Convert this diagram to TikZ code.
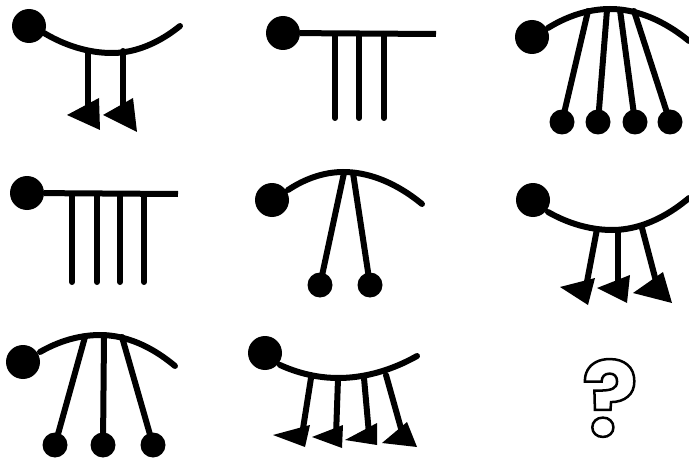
\documentclass[tikz,border=0pt]{standalone}
\usepackage{fontspec}
\newfontfamily\qfont{Poppins}
\begin{document}
\begin{tikzpicture}[x=1pt,y=-1pt,
  line/.style={line width=6pt, line cap=round},
  bigdot/.style={circle, fill=black, inner sep=0pt, minimum size=34pt},
  ball/.style={circle, fill=black, inner sep=0pt, minimum size=25pt}]
\useasboundingbox[fill=white] (0,0) rectangle (689,460);

% ---------- Figure 1 ----------
\node[bigdot] (d1) at (29,26) {};
\coordinate (a1s) at (44,33);
\draw[line] (a1s) parabola bend (112,53) (180,26);
\coordinate (s11) at (88,51); \coordinate (e11) at (88,112);
\coordinate (s12) at (123,51); \coordinate (e12) at (123,112);
\draw[line] (s11) -- (e11);
\draw[line] (s12) -- (e12);
\fill (67,115) -- (99,98) -- (100,130) -- cycle;
\fill (103,115) -- (133,98) -- (137,132) -- cycle;

% ---------- Figure 2 ----------
\node[bigdot] (d2) at (283,33) {};
\coordinate (r2) at (436,34);
\draw[line, line cap=butt] (d2) -- (r2);
\foreach \x [count=\i] in {335,359,384}{
  \coordinate (s2\i) at (\x,34); \coordinate (e2\i) at (\x,118);
  \draw[line] (s2\i) -- (e2\i);
}

% ---------- Figure 3 ----------
\node[bigdot] (d3) at (532,37) {};
\draw[line] (548,28) parabola bend (610,9) (689,41);
\coordinate (s31) at (588,11); \node[ball] (b31) at (562,122) {};
\coordinate (s32) at (607,10); \node[ball] (b32) at (598,122) {};
\coordinate (s33) at (620,10); \node[ball] (b33) at (635,122) {};
\coordinate (s34) at (634,11); \node[ball] (b34) at (670,122) {};
\foreach \i in {1,2,3,4}{ \draw[line] (s3\i) -- (b3\i.center); }

% ---------- Figure 4 ----------
\node[bigdot] (d4) at (27,193) {};
\coordinate (r4) at (178,194);
\draw[line, line cap=butt] (d4) -- (r4);
\foreach \x [count=\i] in {72,97,120,144}{
  \coordinate (s4\i) at (\x,194); \coordinate (e4\i) at (\x,282);
  \draw[line] (s4\i) -- (e4\i);
}

% ---------- Figure 5 ----------
\node[bigdot] (d5) at (272,200) {};
\draw[line] (288,190) parabola bend (343,172) (422,204);
\coordinate (s51) at (344,173); \node[ball] (b51) at (320,285) {};
\coordinate (s52) at (353,173); \node[ball] (b52) at (370,285) {};
\draw[line] (s51) -- (b51.center);
\draw[line] (s52) -- (b52.center);

% ---------- Figure 6 ----------
\node[bigdot] (d6) at (533,200) {};
\draw[line] (548,212) parabola bend (612,230) (689,198);
\coordinate (s61) at (597,229); \coordinate (e61) at (586,287);
\coordinate (s62) at (618,230); \coordinate (e62) at (618,286);
\coordinate (s63) at (642,228); \coordinate (e63) at (657,285);
\foreach \i in {1,2,3}{ \draw[line] (s6\i) -- (e6\i); }
\fill (560,287) -- (595,278) -- (588,305) -- cycle;
\fill (597,288) -- (630,275) -- (627,303) -- cycle;
\fill (633,293) -- (663,272) -- (672,303) -- cycle;

% ---------- Figure 7 ----------
\node[bigdot] (d7) at (23,362) {};
\draw[line] (40,352) parabola bend (100,335) (175,366);
\coordinate (s71) at (85,337);  \node[ball] (b71) at (55,445) {};
\coordinate (s72) at (104,336); \node[ball] (b72) at (103,445) {};
\coordinate (s73) at (122,337); \node[ball] (b73) at (153,445) {};
\foreach \i in {1,2,3}{ \draw[line] (s7\i) -- (b7\i.center); }

% ---------- Figure 8 ----------
\node[bigdot] (d8) at (265,353) {};
\draw[line] (280,365) parabola bend (338,378) (417,356);
\coordinate (s81) at (311,378); \coordinate (e81) at (302,435);
\coordinate (s82) at (338,379); \coordinate (e82) at (336,436);
\coordinate (s83) at (364,378); \coordinate (e83) at (369,434);
\coordinate (s84) at (386,375); \coordinate (e84) at (402,432);
\foreach \i in {1,2,3,4}{ \draw[line] (s8\i) -- (e8\i); }
\fill (273,435) -- (310,425) -- (305,447) -- cycle;
\fill (312,437) -- (343,425) -- (342,448) -- cycle;
\fill (345,440) -- (377,423) -- (377,445) -- cycle;
\fill (382,443) -- (407,422) -- (417,447) -- cycle;

% ---------- Figure 9 ----------
\node[inner sep=0pt] (q) at (610,398) {\qfont\bfseries\fontsize{104}{104}\selectfont\special{pdf:code q 1 Tr 2.5 w}?\special{pdf:code Q}};
\end{tikzpicture}
\end{document}
